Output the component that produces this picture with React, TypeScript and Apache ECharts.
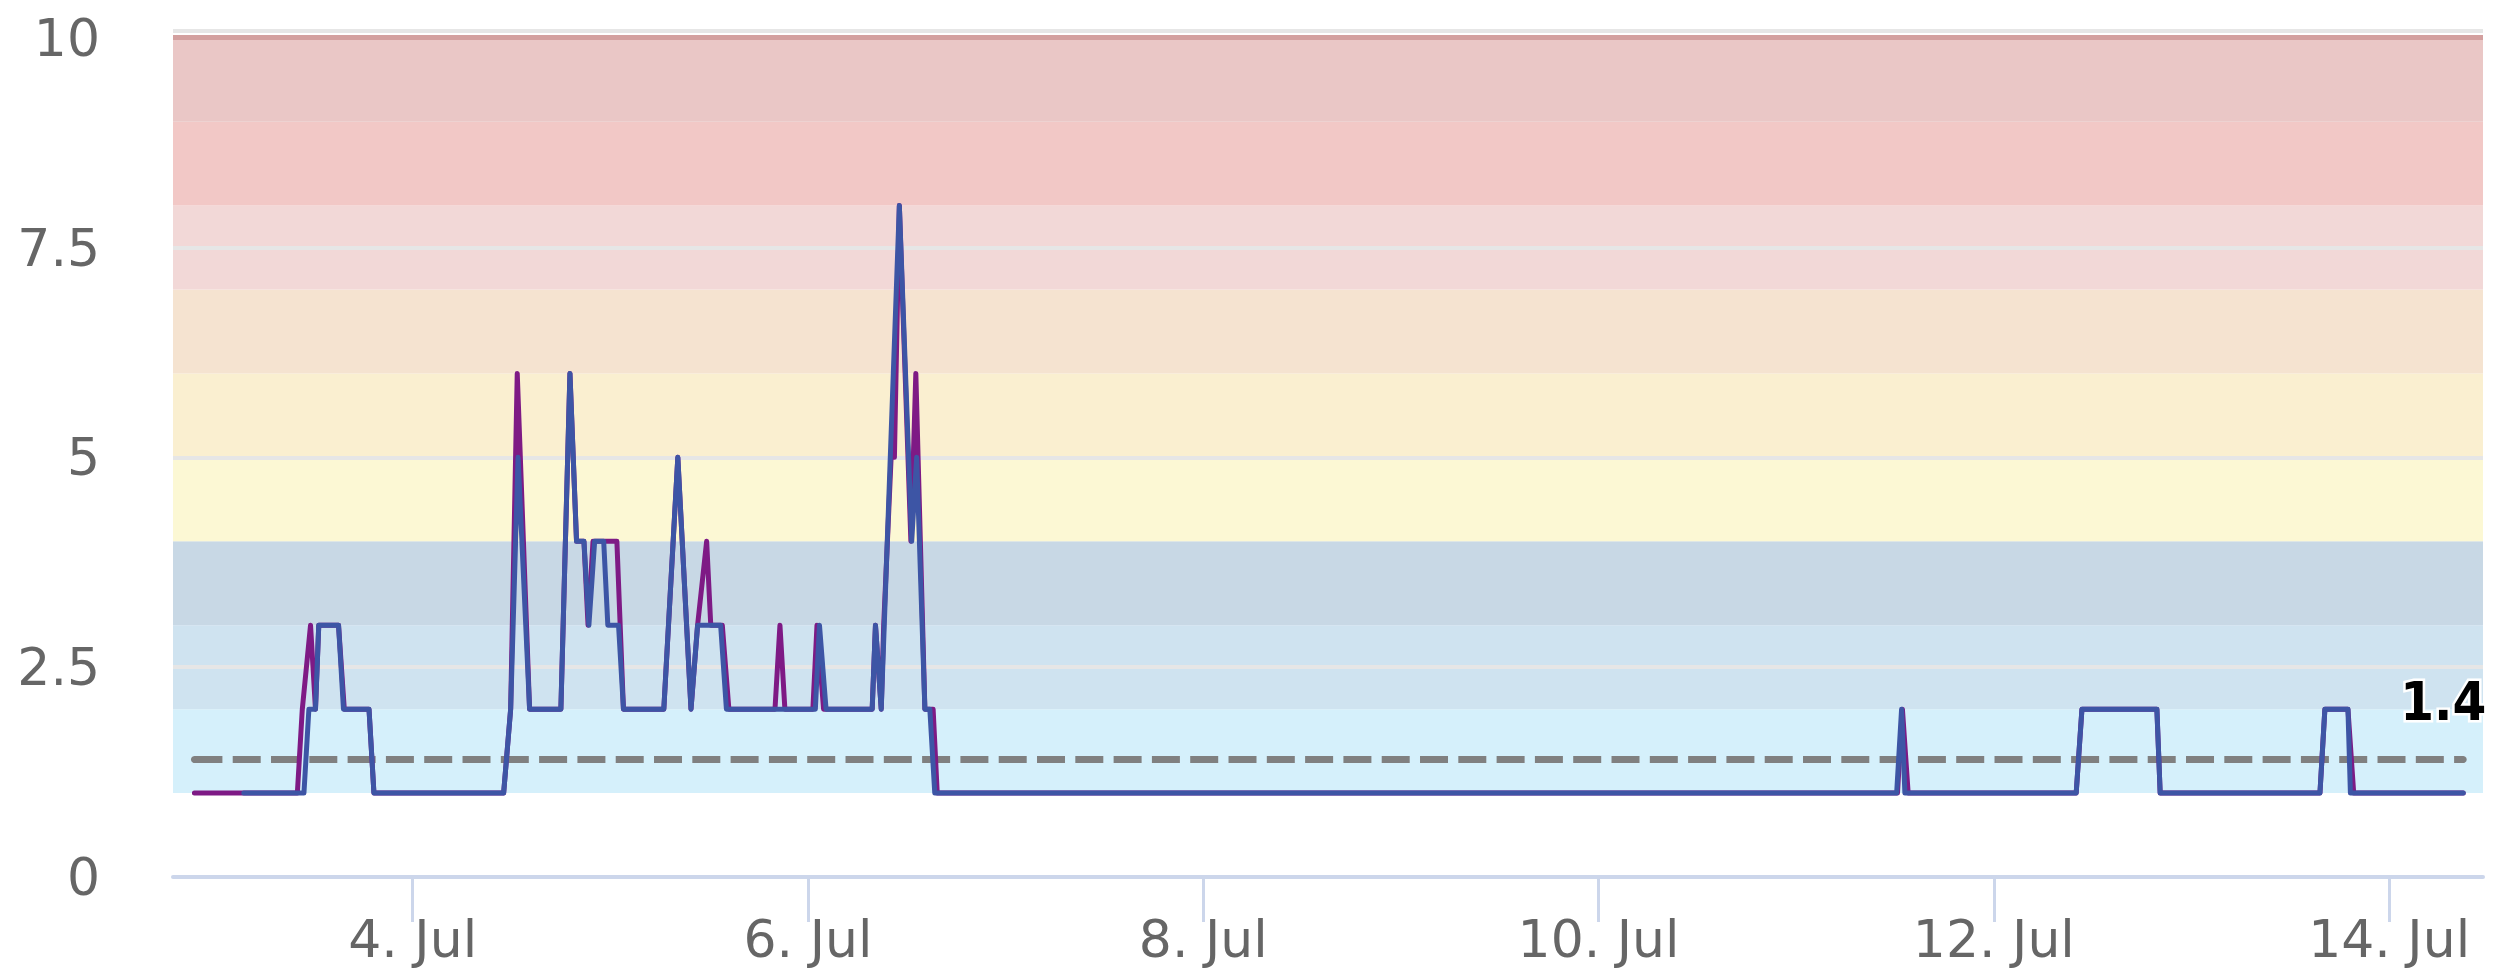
import { useEffect, useRef } from "react";
import * as echarts from "echarts";

// ---- data (hours relative to 4 Jul 00:00 UTC) ----
const YEAR = 2024;
const MONTH_LABEL = "Jul";
const BASE = Date.UTC(YEAR, 6, 4);
const HOUR = 3600000;

const purplePoints: [number, number][] = [
  [-26.5, 1], [-14.0, 1], [-13.4, 2], [-12.4, 3], [-11.8, 2], [-11.4, 3], [-9.0, 3], [-8.3, 2], [-5.3, 2], [-4.7, 1],
  [11.05, 1], [11.9, 2], [12.7, 6], [14.2, 2], [18.0, 2], [19.1, 6], [19.9, 4], [20.8, 4], [21.3, 3], [21.9, 4],
  [24.8, 4], [25.6, 2], [30.5, 2], [32.2, 5], [33.8, 2], [34.6, 3], [35.7, 4], [36.2, 3], [37.6, 3], [38.4, 2],
  [44.0, 2], [44.6, 3], [45.2, 2], [48.6, 2], [49.1, 3], [49.9, 2], [55.8, 2], [56.2, 3], [56.9, 2], [57.2, 3],
  [58.1, 5], [58.5, 5], [59.1, 8], [60.5, 4], [61.1, 6], [62.2, 2], [63.2, 2], [63.7, 1],
  [180.3, 1], [180.9, 2], [181.6, 1], [202.0, 1], [202.7, 2], [211.8, 2], [212.2, 1],
  [231.6, 1], [232.2, 2], [235.0, 2], [235.7, 1], [249.0, 1],
];

const bluePoints: [number, number][] = [
  [-20.5, 1], [-13.2, 1], [-12.6, 2], [-11.8, 2], [-11.4, 3], [-9.0, 3], [-8.4, 2], [-5.3, 2], [-4.7, 1],
  [11.05, 1], [11.9, 2], [12.8, 5], [14.2, 2], [18.0, 2], [19.1, 6], [19.9, 4], [20.8, 4], [21.4, 3], [22.1, 4],
  [23.2, 4], [23.7, 3], [25.0, 3], [25.6, 2], [30.5, 2], [32.2, 5], [33.8, 2], [34.6, 3], [37.4, 3], [38.1, 2],
  [48.9, 2], [49.4, 3], [50.2, 2], [55.8, 2], [56.2, 3], [56.9, 2], [59.1, 8], [60.6, 4], [61.2, 5], [62.2, 2],
  [62.8, 2], [63.4, 1],
  [180.2, 1], [180.8, 2], [181.2, 1], [202.0, 1], [202.7, 2], [211.8, 2], [212.2, 1],
  [231.6, 1], [232.2, 2], [235.0, 2], [235.3, 1], [249.0, 1],
];

const REF_VALUE = 1.4;
const REF_START_H = -26.5;
const REF_END_H = 249.0;

const X_MIN_H = -29.1;
const X_MAX_H = 251.4;

const TICK_DAYS = [4, 6, 8, 10, 12, 14];

const Y_TICKS_INTERVAL = 2.5;
const Y_MAX = 10.08;
const TOP_LINE_VALUE = 10;

const BAND_FROM = [1, 2, 3, 4, 5, 6, 7, 8, 9];
const BAND_TO = [2, 3, 4, 5, 6, 7, 8, 9, 10];
const BAND_COLORS = [
  "#d5f0fb", "#cfe3f0", "#c8d8e5", "#fcf8d4", "#faefd0",
  "#f5e3d0", "#f2d8d7", "#f2c8c6", "#eac7c6",
];

const toT = (h: number) => BASE + h * HOUR;

export default function App() {
  const ref = useRef<HTMLDivElement>(null);

  useEffect(() => {
    if (!ref.current) return;
    const chart = echarts.init(ref.current, undefined, { renderer: "svg" });

    const tickTimes = TICK_DAYS.map((d) => Date.UTC(YEAR, 6, d));
    const refData: any[] = [
      [toT(REF_START_H), REF_VALUE],
      {
        value: [toT(REF_END_H), REF_VALUE],
        label: {
          show: true,
          position: "top",
          distance: 28,
          offset: [-20, 0],
          formatter: (p: any) => String(p.value[1]),
          fontFamily: "DejaVu Sans Condensed, DejaVu Sans",
          fontWeight: "bold",
          fontSize: 54,
          lineHeight: 54,
          color: "#000",
          textBorderColor: "#fff",
          textBorderWidth: 5,
        },
      },
    ];

    chart.setOption({
      animation: false,
      grid: { left: 173, right: 26, top: 31, bottom: 103, containLabel: false },
      xAxis: {
        type: "value",
        min: toT(X_MIN_H),
        max: toT(X_MAX_H),
        z: 4,
        axisLine: { show: true, lineStyle: { color: "#ccd6eb", width: 4 } },
        axisTick: {
          show: true,
          customValues: tickTimes,
          length: 45,
          lineStyle: { color: "#ccd6eb", width: 3 },
        },
        axisLabel: {
          customValues: tickTimes,
          formatter: (v: number) => `${new Date(v).getUTCDate()}. ${MONTH_LABEL}`,
          fontFamily: "DejaVu Sans",
          fontSize: 52,
          color: "#666666",
          margin: 36,
        },
        splitLine: { show: false },
      },
      yAxis: {
        type: "value",
        min: 0,
        max: Y_MAX,
        interval: Y_TICKS_INTERVAL,
        z: 3,
        axisLine: { show: false },
        axisTick: { show: false },
        axisLabel: {
          showMaxLabel: false,
          fontFamily: "DejaVu Sans",
          fontSize: 52,
          color: "#666666",
          margin: 73,
        },
        splitLine: { show: true, lineStyle: { color: "#e6e6e6", width: 4 } },
      },
      series: [
        {
          type: "line",
          name: "bands",
          z: 1,
          silent: true,
          data: [[toT(REF_START_H), 1], [toT(REF_END_H), 1]],
          symbol: "none",
          lineStyle: { width: 0, opacity: 0 },
          markArea: {
            silent: true,
            data: BAND_FROM.map((lo, i) => [
              { yAxis: lo, itemStyle: { color: BAND_COLORS[i] } },
              { yAxis: BAND_TO[i] },
            ]),
          },
        },
        {
          type: "line",
          name: "reference",
          z: 4,
          silent: true,
          data: refData,
          symbol: "circle",
          symbolSize: 7,
          showSymbol: true,
          itemStyle: { color: "#808080" },
          lineStyle: { color: "#808080", width: 7, type: [28, 10.3] },
          markLine: {
            silent: true,
            symbol: "none",
            label: { show: false },
            lineStyle: { color: "#d3a09f", width: 5, type: "solid" },
            data: [{ yAxis: TOP_LINE_VALUE }],
          },
        },
        {
          type: "line",
          name: "purple",
          z: 5,
          data: purplePoints.map(([h, v]) => [toT(h), v]),
          showSymbol: false,
          symbol: "none",
          lineStyle: { color: "#7e1a85", width: 5, cap: "round", join: "round" },
        },
        {
          type: "line",
          name: "blue",
          z: 6,
          data: bluePoints.map(([h, v]) => [toT(h), v]),
          showSymbol: false,
          symbol: "none",
          lineStyle: { color: "#3d55a5", width: 5, cap: "round", join: "round" },
        },
      ],
    });

    return () => chart.dispose();
  }, []);

  return (
    <div
      ref={ref}
      style={{ position: "fixed", left: 0, top: 0, width: 2509, height: 980, background: "#fff" }}
    />
  );
}
